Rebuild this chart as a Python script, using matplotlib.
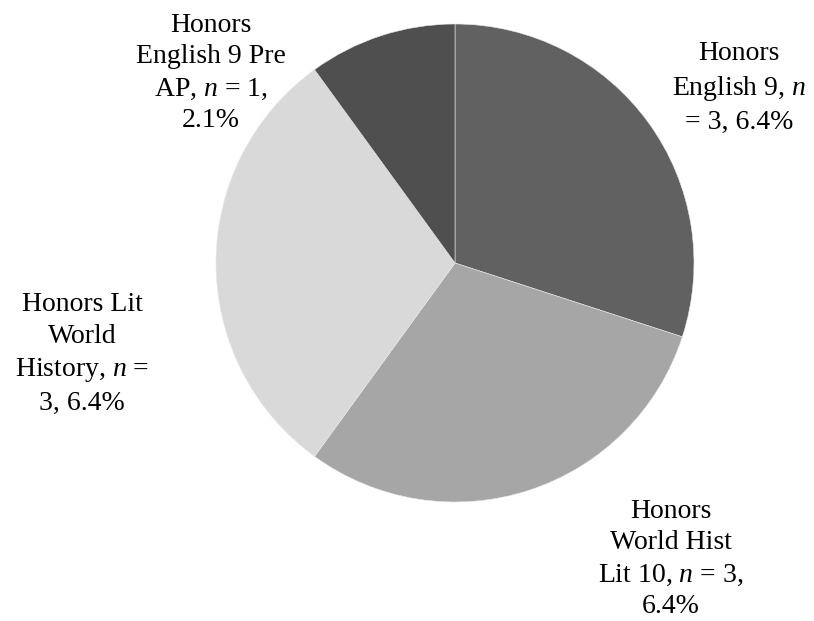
import matplotlib
matplotlib.use("Agg")
import matplotlib.pyplot as plt

plt.rcParams['font.family'] = ['Liberation Serif', 'DejaVu Serif']
plt.rcParams['mathtext.fontset'] = 'custom'
plt.rcParams['mathtext.rm'] = 'Liberation Serif'
plt.rcParams['mathtext.it'] = 'Liberation Serif:italic'

categories = ["Honors English 9", "Honors World Hist Lit 10",
              "Honors Lit World History", "Honors English 9 Pre AP"]
counts = [3, 3, 3, 1]
percents = [6.4, 6.4, 6.4, 2.1]
colors = ["#616161", "#a6a6a6", "#d9d9d9", "#4f4f4f"]
labels = [
    "Honors\nEnglish 9, $n$\n= 3, 6.4%",
    "Honors\nWorld Hist\nLit 10, $n$ = 3,\n6.4%",
    "Honors Lit\nWorld\nHistory, $n$ =\n3, 6.4%",
    "Honors\nEnglish 9 Pre\nAP, $n$ = 1,\n2.1%",
]
# label centres in pixel coords (x, y from top)
label_px = [(739, 88), (671, 559), (82, 354), (211, 73)]

W, H = 814, 621
fig = plt.figure(figsize=(W / 100, H / 100), dpi=100)
cx, cy, r = 455, 263, 239
ax = fig.add_axes([(cx - r) / W, (H - cy - r) / H, 2 * r / W, 2 * r / H])
ax.pie(counts, colors=colors, startangle=90, counterclock=False, radius=1,
       wedgeprops=dict(edgecolor="#e8e8e8", linewidth=0.4))
ax.set_xlim(-1, 1)
ax.set_ylim(-1, 1)
ax.set_aspect("equal")
ax.axis("off")

for lab, (px, py) in zip(labels, label_px):
    fig.text(px / W, 1 - py / H, lab, ha="center", va="center",
             multialignment="center", fontsize=20, color="black", linespacing=1.36)

fig.savefig("out.png", dpi=100, facecolor="white")
